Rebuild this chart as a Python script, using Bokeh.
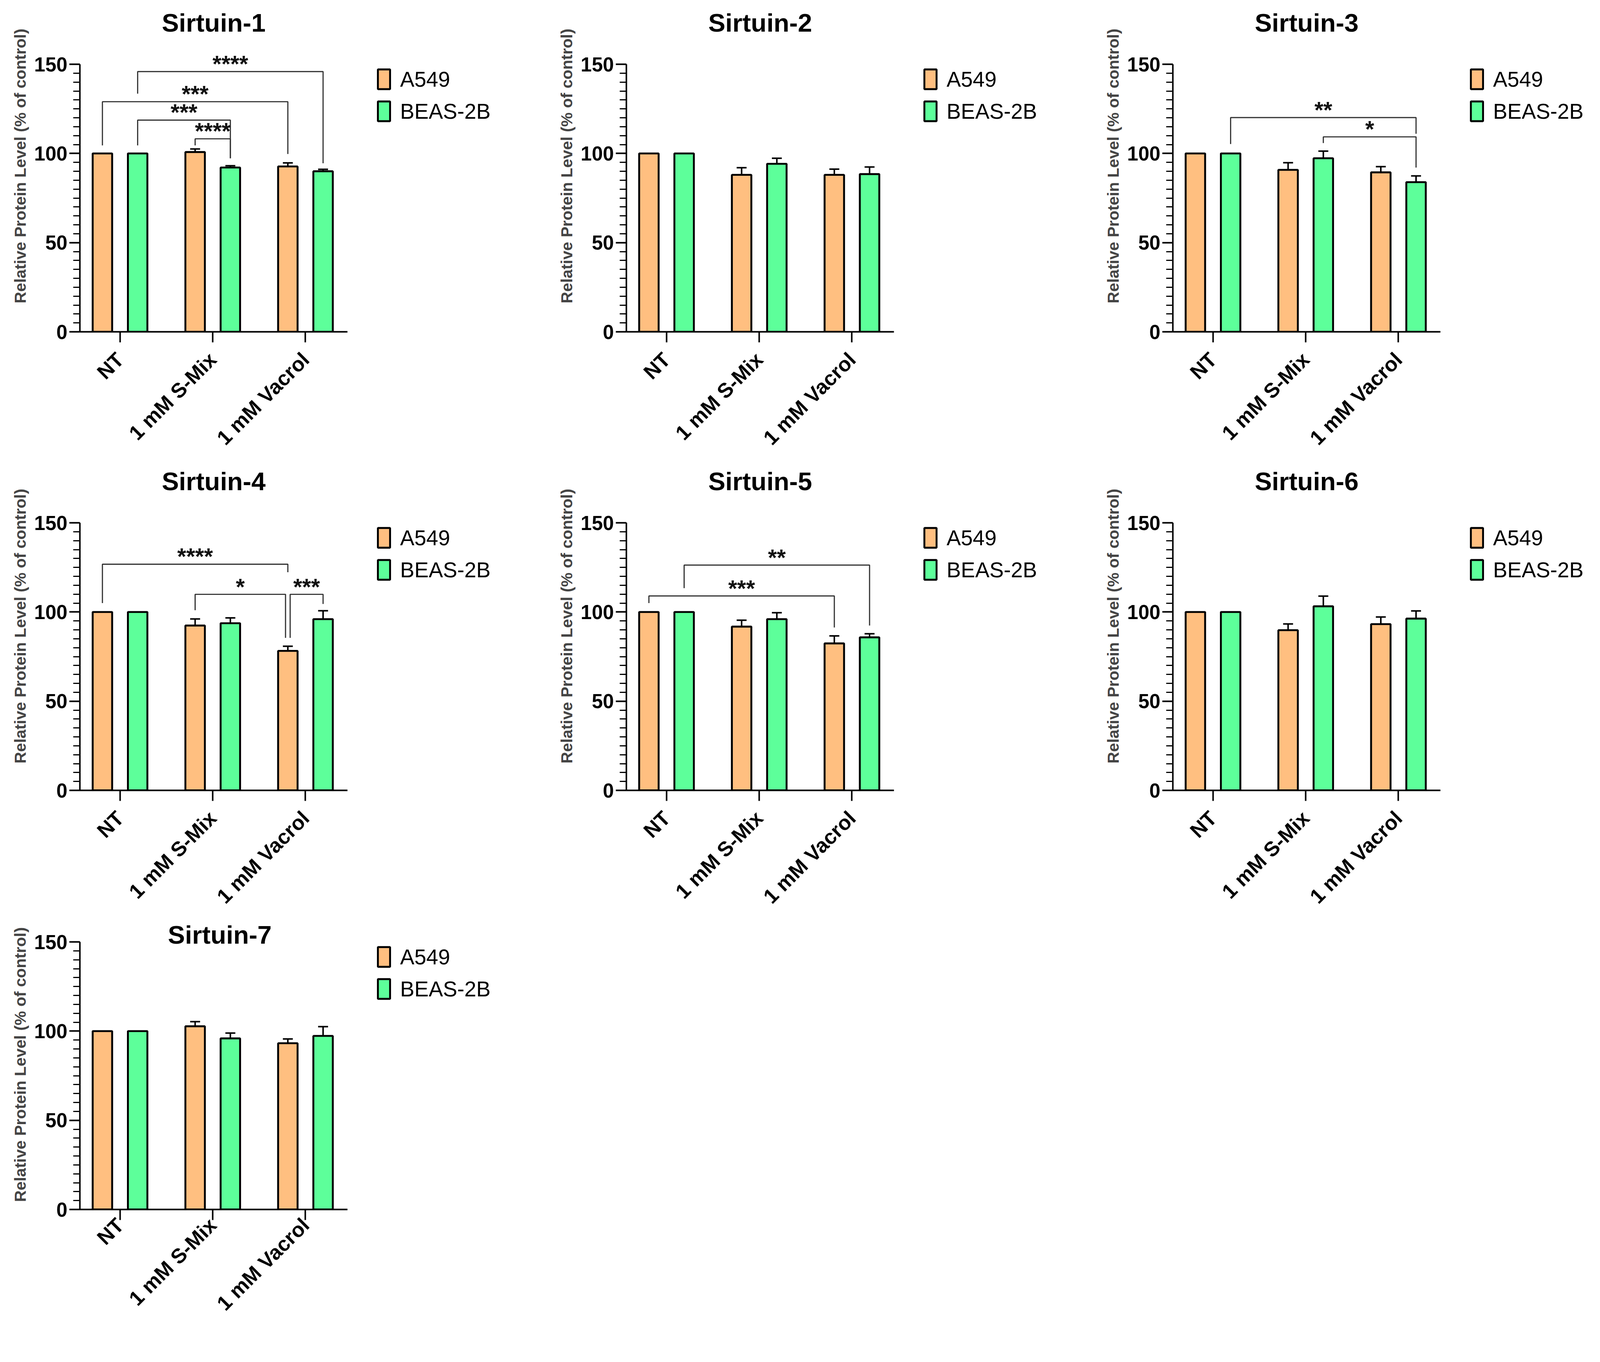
from bokeh.plotting import figure
from bokeh.models import (Range1d, FixedTicker, SingleIntervalTicker, Whisker, TeeHead,
                          ColumnDataSource, Legend, LegendItem, Label)
from bokeh.layouts import row, column
from bokeh.embed import file_html
from bokeh.resources import INLINE
from bokeh.core.properties import value
from math import pi

# ---------------- data ----------------
categories = ["NT", "1 mM S-Mix", "1 mM Vacrol"]
cell_lines = ["A549", "BEAS-2B"]
panel_titles = ["Sirtuin-1", "Sirtuin-2", "Sirtuin-3", "Sirtuin-4",
                "Sirtuin-5", "Sirtuin-6", "Sirtuin-7"]

# mean (% of control) and error per category: NT, S-Mix, Vacrol
sirt1_a549 = [100, 100.8, 92.7]
sirt1_a549_err = [0, 1.7, 2.0]
sirt1_beas = [100, 92.1, 90.0]
sirt1_beas_err = [0, 1.0, 1.1]

sirt2_a549 = [100, 88.0, 88.0]
sirt2_a549_err = [0, 4.0, 3.2]
sirt2_beas = [100, 94.2, 88.4]
sirt2_beas_err = [0, 3.1, 4.0]

sirt3_a549 = [100, 90.8, 89.4]
sirt3_a549_err = [0, 4.0, 3.2]
sirt3_beas = [100, 97.3, 83.9]
sirt3_beas_err = [0, 4.0, 3.5]

sirt4_a549 = [100, 92.4, 78.2]
sirt4_a549_err = [0, 3.7, 2.6]
sirt4_beas = [100, 93.7, 96.0]
sirt4_beas_err = [0, 3.0, 4.7]

sirt5_a549 = [100, 91.8, 82.4]
sirt5_a549_err = [0, 3.6, 4.2]
sirt5_beas = [100, 96.0, 85.8]
sirt5_beas_err = [0, 3.6, 2.0]

sirt6_a549 = [100, 89.8, 93.2]
sirt6_a549_err = [0, 3.5, 4.0]
sirt6_beas = [100, 103.2, 96.3]
sirt6_beas_err = [0, 5.7, 4.3]

sirt7_a549 = [100, 102.7, 93.2]
sirt7_a549_err = [0, 2.6, 2.4]
sirt7_beas = [100, 95.9, 97.3]
sirt7_beas_err = [0, 3.0, 5.2]

# significance brackets: (start bar, end bar, bracket height, left leg end, right leg end, label)
sig_sirt1 = [
    (("NT", "BEAS-2B"), ("1 mM Vacrol", "BEAS-2B"), 145.9, 133.5, 94.5, "****"),
    (("NT", "A549"), ("1 mM Vacrol", "A549"), 129.0, 104.5, 99.7, "***"),
    (("NT", "BEAS-2B"), ("1 mM S-Mix", "BEAS-2B"), 118.7, 104.5, 97.3, "***"),
    (("1 mM S-Mix", "A549"), ("1 mM S-Mix", "BEAS-2B"), 108.2, 104.5, 97.3, "****"),
]
sig_sirt2 = []
sig_sirt3 = [
    (("NT", "BEAS-2B"), ("1 mM Vacrol", "BEAS-2B"), 120.1, 105.3, 111.0, "**"),
    (("1 mM S-Mix", "BEAS-2B"), ("1 mM Vacrol", "BEAS-2B"), 109.3, 105.8, 92.1, "*"),
]
sig_sirt4 = [
    (("NT", "A549"), ("1 mM Vacrol", "A549"), 126.8, 105.0, 122.3, "****"),
    (("1 mM S-Mix", "A549"), ("1 mM Vacrol", "A549"), 109.9, 101.0, 85.5, "*"),
    (("1 mM Vacrol", "A549"), ("1 mM Vacrol", "BEAS-2B"), 109.9, 85.5, 104.5, "***"),
]
sig_sirt5 = [
    (("NT", "BEAS-2B"), ("1 mM Vacrol", "BEAS-2B"), 126.3, 113.4, 92.4, "**"),
    (("NT", "A549"), ("1 mM Vacrol", "A549"), 109.0, 105.0, 91.3, "***"),
]
sig_sirt6 = []
sig_sirt7 = []

panels = [
    (sirt1_a549, sirt1_a549_err, sirt1_beas, sirt1_beas_err, sig_sirt1),
    (sirt2_a549, sirt2_a549_err, sirt2_beas, sirt2_beas_err, sig_sirt2),
    (sirt3_a549, sirt3_a549_err, sirt3_beas, sirt3_beas_err, sig_sirt3),
    (sirt4_a549, sirt4_a549_err, sirt4_beas, sirt4_beas_err, sig_sirt4),
    (sirt5_a549, sirt5_a549_err, sirt5_beas, sirt5_beas_err, sig_sirt5),
    (sirt6_a549, sirt6_a549_err, sirt6_beas, sirt6_beas_err, sig_sirt6),
    (sirt7_a549, sirt7_a549_err, sirt7_beas, sirt7_beas_err, sig_sirt7),
]

# ---------------- style ----------------
S = 0.978                      # page px per reference px
FONT = "Liberation Sans"
COLORS = {"A549": "#FFBF80", "BEAS-2B": "#5DFF9A"}
OFFSETS = {"A549": -0.19, "BEAS-2B": 0.19}
BAR_W = 0.21
X_AX = (-0.433, 2.453)         # x extent of the drawn x axis
Y_AX = (0, 150)
AXIS_W = round(700 * S)        # pixel length of x axis
AXIS_H = round(700 * S)        # pixel length of y axis (0..150)
UX = AXIS_W / (X_AX[1] - X_AX[0])
UY = AXIS_H / (Y_AX[1] - Y_AX[0])
LEFT = round(217 * S - 8)
RIGHT = 6


def s(v):
    return v * S


def fs(v):
    return f"{v * S:.1f}px"


def bar_x(cat, line):
    return categories.index(cat) + OFFSETS[line]


def make_panel(idx, fig_w, extra_top, bottom_border, title_gap, label_standoff, title_dx=0):
    a_mean, a_err, b_mean, b_err, sigs = panels[idx]
    frame_w = fig_w - LEFT - RIGHT
    frame_h = AXIS_H + extra_top
    p = figure(frame_width=frame_w, frame_height=frame_h,
               x_range=Range1d(X_AX[0], X_AX[0] + frame_w / UX),
               y_range=Range1d(Y_AX[0], Y_AX[0] + frame_h / UY),
               output_backend="svg", toolbar_location=None,
               min_border_left=LEFT, min_border_right=RIGHT,
               min_border_top=0, min_border_bottom=bottom_border)
    p.outline_line_color = None
    p.xgrid.visible = False
    p.ygrid.visible = False
    p.background_fill_color = "white"
    p.border_fill_color = "white"

    renderers = {}
    for line, mean, err in (("A549", a_mean, a_err), ("BEAS-2B", b_mean, b_err)):
        xs = [bar_x(c, line) for c in categories]
        src = ColumnDataSource(dict(x=xs, top=mean))
        renderers[line] = p.vbar(x="x", top="top", bottom=0, width=BAR_W, source=src,
                                 fill_color=COLORS[line], line_color="black", line_width=s(5))
        ex = [x for x, e in zip(xs, err) if e > 0]
        eu = [m + e for m, e in zip(mean, err) if e > 0]
        el = [m - e for m, e in zip(mean, err) if e > 0]
        esrc = ColumnDataSource(dict(x=ex, upper=eu, lower=el))
        w = Whisker(base="x", upper="upper", lower="lower", source=esrc,
                    line_color="black", line_width=s(4),
                    upper_head=TeeHead(size=s(26), line_width=s(4), line_color="black"),
                    lower_head=TeeHead(size=s(26), line_width=s(4), line_color="black"))
        p.add_layout(w)

    # significance brackets
    bxs, bys, tx, ty, tt = [], [], [], [], []
    for i, (st, en, yl, y1, y2, lab) in enumerate(sigs):
        x1 = bar_x(*st)
        x2 = bar_x(*en)
        for j, (s2, e2, yl2, _, _, _) in enumerate(sigs):
            if j == i or yl2 != yl:
                continue
            if en == s2:
                x2 -= 0.025
            if st == e2:
                x1 += 0.025
        bxs.append([x1, x1, x2, x2])
        bys.append([y1, yl, yl, y2])
        tx.append((x1 + x2) / 2)
        ty.append(yl)
        tt.append(lab)
    if sigs:
        p.multi_line(xs=bxs, ys=bys, line_color="#303030", line_width=s(3))
        p.text(x=tx, y=ty, text=tt, text_align="center", text_baseline="alphabetic",
               y_offset=s(-20), text_font=value(FONT), text_font_style="bold",
               text_font_size=fs(60), text_color="#111111")

    # axes
    yax = p.yaxis[0]
    yax.bounds = Y_AX
    yax.ticker = SingleIntervalTicker(interval=50, num_minor_ticks=10)
    yax.axis_label = "Relative Protein Level (% of control)"
    yax.axis_label_text_font = FONT
    yax.axis_label_text_font_style = "bold"
    yax.axis_label_text_font_size = fs(42)
    yax.axis_label_standoff = round(s(10))
    yax.major_label_text_font = FONT
    yax.major_label_text_font_style = "bold"
    yax.major_label_text_font_size = fs(52)
    yax.major_label_text_color = "black"
    yax.major_label_standoff = round(s(5))
    yax.major_tick_in = 0
    yax.major_tick_out = round(s(28))
    yax.minor_tick_in = 0
    yax.minor_tick_out = round(s(17))
    yax.axis_line_width = s(4)
    yax.major_tick_line_width = s(4)
    yax.minor_tick_line_width = s(3)
    yax.axis_line_color = "black"
    yax.major_tick_line_color = "black"
    yax.minor_tick_line_color = "black"

    xax = p.xaxis[0]
    xax.bounds = X_AX
    xax.ticker = FixedTicker(ticks=[0, 1, 2], minor_ticks=[])
    xax.major_label_overrides = {i: c for i, c in enumerate(categories)}
    xax.major_label_orientation = pi / 4
    xax.major_label_text_font = FONT
    xax.major_label_text_font_style = "bold"
    xax.major_label_text_font_size = fs(54)
    xax.major_label_text_color = "black"
    xax.major_label_standoff = round(s(label_standoff))
    xax.axis_label = None
    xax.major_tick_in = 0
    xax.major_tick_out = round(s(28))
    xax.axis_line_width = s(4)
    xax.major_tick_line_width = s(4)
    xax.axis_line_color = "black"
    xax.major_tick_line_color = "black"

    # panel title, centred over the x axis
    title = Label(x=(X_AX[0] + X_AX[1]) / 2, y=Y_AX[1] + s(title_gap) / UY, x_offset=s(title_dx),
                  text=panel_titles[idx], text_align="center", text_baseline="middle",
                  text_font=FONT, text_font_style="bold", text_font_size=fs(67),
                  text_color="black")
    p.add_layout(title)

    # legend to the right of the axes
    glyph_w, glyph_h, spacing = round(s(40)), round(s(64)), round(s(18))
    legend_h = 2 * glyph_h + spacing
    legend = Legend(items=[LegendItem(label=l, renderers=[renderers[l]]) for l in cell_lines],
                    location=(AXIS_W + s(76), AXIS_H - s(9) - legend_h), orientation="vertical",
                    glyph_width=glyph_w, glyph_height=glyph_h, spacing=spacing,
                    padding=0, margin=0, label_standoff=round(s(22)),
                    label_text_font=FONT, label_text_font_size=fs(56),
                    label_text_color="black", border_line_color=None,
                    background_fill_alpha=0)
    p.add_layout(legend)
    return p


W12 = round(1430 * S)
W3 = 1286
E1, B1 = round(176 * S - 8), round(340 * S)
E2, B2 = round(159 * S), round(338 * S)
E3 = round(58 * S)

f1 = make_panel(0, W12, E1, B1, 108, 36)
f2 = make_panel(1, W12, E1, B1, 108, 36)
f3 = make_panel(2, W3, E1, B1, 108, 36)
f4 = make_panel(3, W12, E2, B2, 108, 36)
f5 = make_panel(4, W12, E2, B2, 108, 36)
f6 = make_panel(5, W3, E2, B2, 108, 36)
f7 = make_panel(6, W12, E3, 0, 18, 4, title_dx=16)

layout = column(row(f1, f2, f3), row(f4, f5, f6), f7)
open("out.html", "w").write(file_html(layout, INLINE))
